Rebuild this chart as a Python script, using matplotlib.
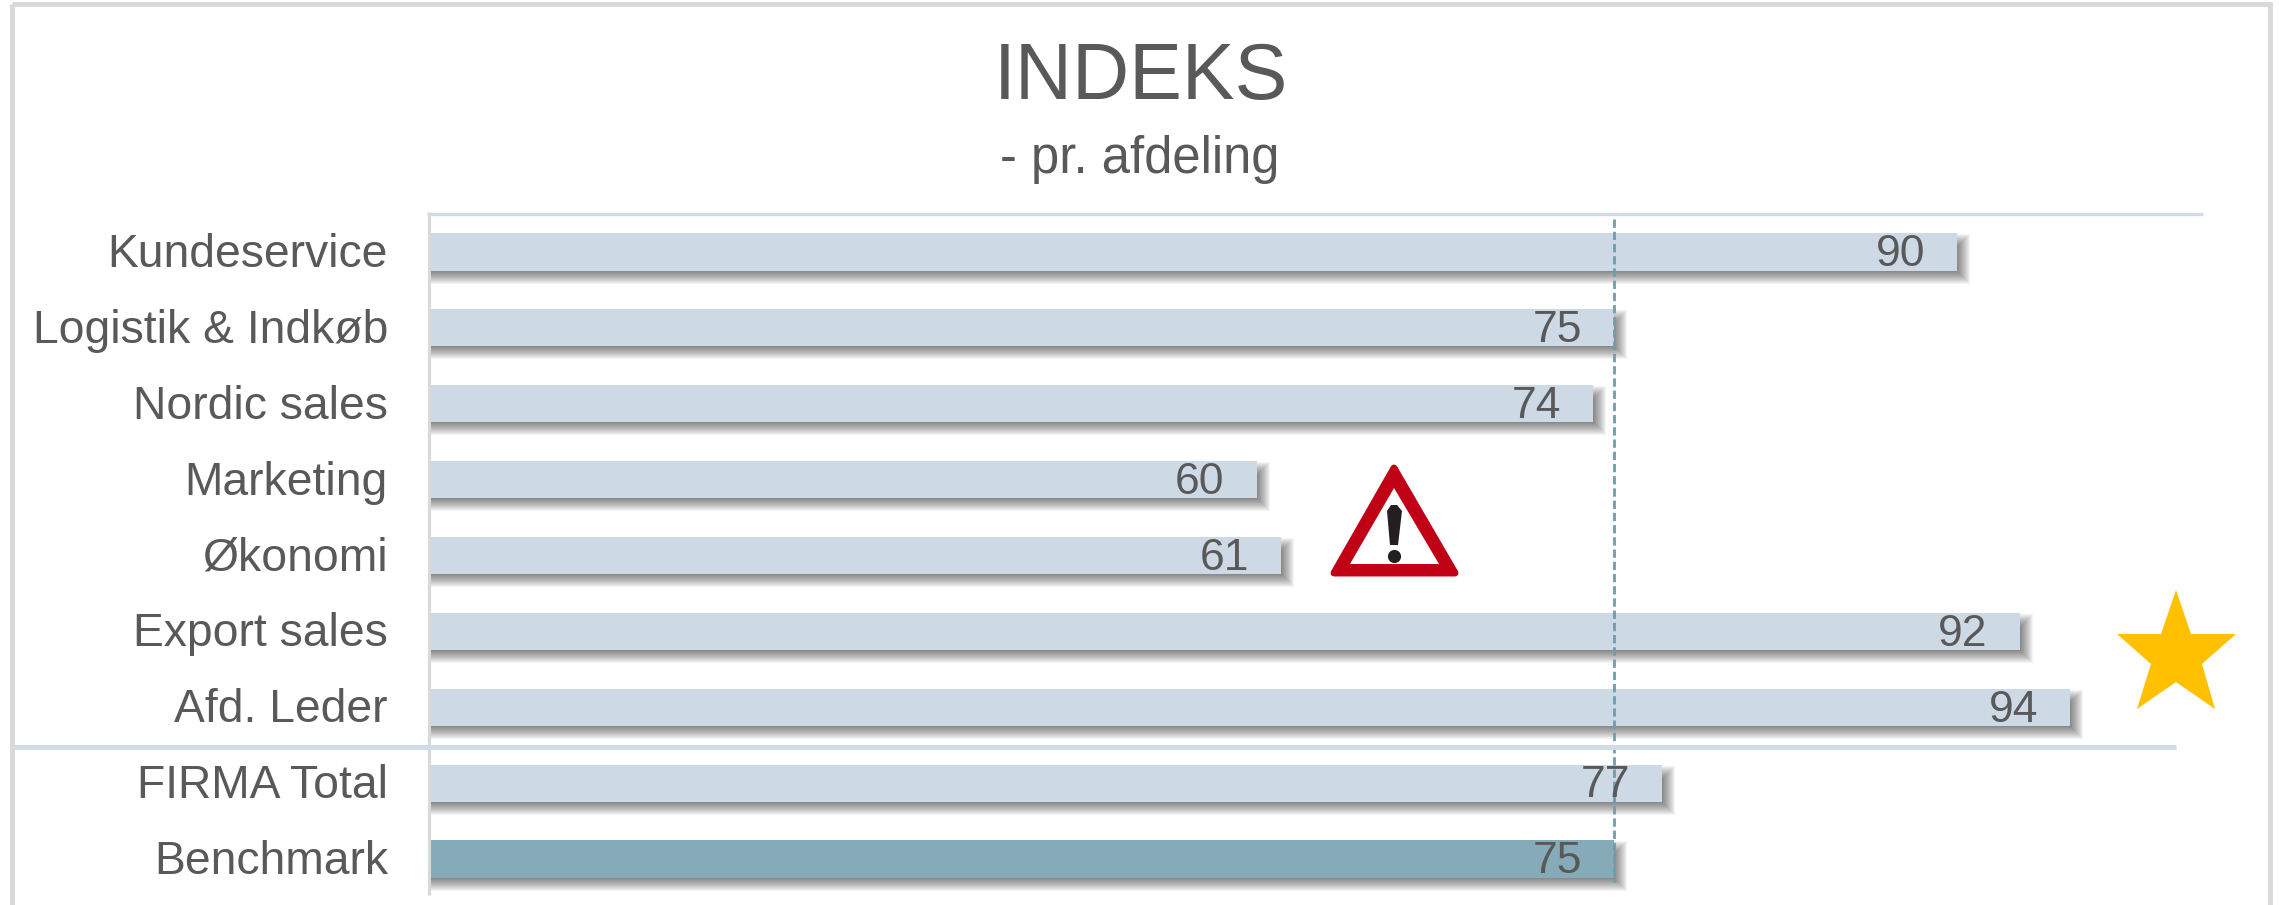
import matplotlib
matplotlib.use("Agg")
import matplotlib.pyplot as plt
from matplotlib.patches import Polygon, Rectangle
from matplotlib.transforms import Affine2D

plt.rcParams['font.family'] = ['Liberation Sans', 'DejaVu Sans']

# the data, top bar first
departments = ["Kundeservice", "Logistik & Indkøb", "Nordic sales", "Marketing", "Økonomi",
               "Export sales", "Afd. Leder", "FIRMA Total", "Benchmark"]
bar_values = [89.2, 74.9, 74.0, 60.0, 61.0, 91.8, 93.9, 76.9, 74.9]
value_labels = ["90", "75", "74", "60", "61", "92", "94", "77", "75"]
benchmark = 74.9

bar_color = "#cdd9e5"
benchmark_color = "#84abb7"
line_color = "#d0dce8"
text_color = "#595959"
W, H = 2279, 905

fig = plt.figure(figsize=(W / 100, H / 100), dpi=100, facecolor="white")

# overlay in pixel coordinates for the frame and the two icons
deco = fig.add_axes([0, 0, 1, 1], zorder=5)
deco.set_xlim(0, W)
deco.set_ylim(H, 0)
deco.axis("off")
deco.patch.set_alpha(0)

# plot area
left, right, top, bottom = 431, 2203, 214, 897
px_per_unit = 24.0
px_per_row = (bottom - top) / len(departments)
ax = fig.add_axes([left / W, 1 - bottom / H, (right - left) / W, (bottom - top) / H], zorder=2)
ax.patch.set_alpha(0)
ax.set_xlim(25.6, 25.6 + (right - left) / px_per_unit)
ax.set_ylim(len(departments) - 0.5, -0.5)

ypos = list(range(len(departments)))
colors = [bar_color] * 8 + [benchmark_color]

# soft shadow: nested see-through bars that grow one pixel at a time, shifted right and down
shift = Affine2D().translate(7, -7)
for d in range(-7, 7):
    widths = [v + d / px_per_unit for v in bar_values]
    bars = ax.barh(ypos, widths, left=0, height=0.49 + 2 * d / px_per_row,
                   color=(0, 0, 0, 0.045), linewidth=0, zorder=1)
    for b in bars:
        b.set_transform(ax.transData + shift)
        b.set_clip_box(ax.bbox)

ax.barh(ypos, bar_values, left=0, height=0.49, color=colors, zorder=2)

# reference line
ax.plot([benchmark, benchmark], [-0.43, 8.3], color="#6f9dab", lw=2, ls=(0, (3, 1.4)), zorder=4)

for y, v, lab in zip(ypos, bar_values, value_labels):
    ax.annotate(lab, (v, y), xytext=(-23, -2), textcoords="offset points", ha="right", va="center",
                fontsize=32, color=text_color, zorder=5)

ax.set_yticks(ypos, departments, fontsize=33.3, color=text_color)
ax.tick_params(axis="y", length=0, pad=31)
ax.set_xticks([])
for t in ax.get_yticklabels():
    t.set_transform(t.get_transform() + Affine2D().translate(0, 2))
for s in ["right", "bottom", "left", "top"]:
    ax.spines[s].set_visible(False)

# frame
deco.add_patch(Rectangle((12, 4), 2258, 1000, fill=False, ec="#d9d9d9", lw=3.5))
# axis and grid lines
deco.plot([429, 429], [212, 895], color="#d9d9d9", lw=2.2, solid_capstyle="butt")
deco.plot([427, 2203], [214, 214], color=line_color, lw=2.4, solid_capstyle="butt")
deco.plot([12, 2176], [747, 747], color=line_color, lw=3.6, solid_capstyle="butt")

fig.text(1141 / W, 1 - 79 / H, "INDEKS", fontsize=57, color=text_color, ha="center", va="center")
fig.text(1140 / W, 1 - 159 / H, "- pr. afdeling", fontsize=36.5, color=text_color, ha="center", va="center")

# warning sign
deco.add_patch(Polygon([(1394, 468), (1455, 573), (1334, 573)], closed=True, fc="#c00015", ec="#c00015",
                       lw=5, joinstyle="round"))
deco.add_patch(Polygon([(1394, 488), (1439, 564), (1350, 564)], closed=True, fc="white", ec="none"))
deco.add_patch(Polygon([(1387, 511), (1391, 505), (1397, 505), (1402, 511), (1398, 545), (1390, 545)],
                       closed=True, fc="#231f20", ec="none"))
deco.scatter([1394], [556], s=90, color="#231f20", linewidths=0)

# star
deco.add_patch(Polygon([(2176, 590), (2191, 634), (2236, 634), (2202, 664), (2215, 709), (2176, 682),
                        (2137, 709), (2151, 664), (2117, 634), (2161, 634)],
                       closed=True, fc="#ffc000", ec="none"))

fig.savefig("out.png", dpi=100)
